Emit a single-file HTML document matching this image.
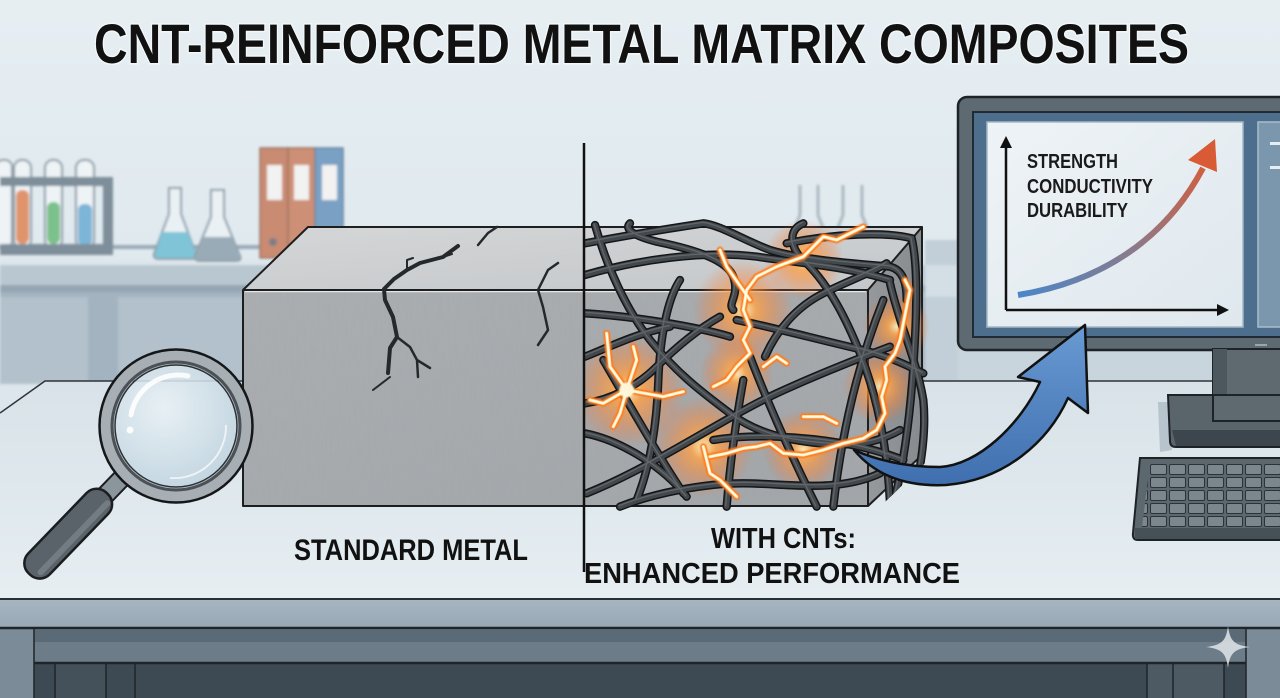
<!DOCTYPE html>
<html><head><meta charset="utf-8"><style>
html,body{margin:0;padding:0;background:#dde7ed;}
svg{display:block}
text{font-family:"Liberation Sans",Arial,sans-serif;font-weight:bold}
</style></head><body>
<svg xmlns="http://www.w3.org/2000/svg" width="1280" height="698" viewBox="0 0 1280 698">
<defs>
<linearGradient id="wall" x1="0" y1="0" x2="0" y2="1">
<stop offset="0" stop-color="#e6eef2"/><stop offset="0.5" stop-color="#dde7ed"/><stop offset="1" stop-color="#d2dde4"/></linearGradient>
<linearGradient id="top" x1="0" y1="0" x2="1" y2="1">
<stop offset="0" stop-color="#d4d6d8"/><stop offset="1" stop-color="#c4c7c9"/></linearGradient>
<linearGradient id="front" x1="0" y1="0" x2="1" y2="1">
<stop offset="0" stop-color="#abaeb1"/><stop offset="1" stop-color="#a2a6a9"/></linearGradient>
<linearGradient id="side" x1="0" y1="0" x2="1" y2="0">
<stop offset="0" stop-color="#96999c"/><stop offset="1" stop-color="#878b8e"/></linearGradient>
<linearGradient id="tbl" x1="0" y1="0" x2="0" y2="1">
<stop offset="0" stop-color="#d8e2e8"/><stop offset="1" stop-color="#e6eef2"/></linearGradient>
<linearGradient id="band" x1="0" y1="0" x2="0" y2="1">
<stop offset="0" stop-color="#a7b6c1"/><stop offset="1" stop-color="#98a8b4"/></linearGradient>
<radialGradient id="lens" cx="0.4" cy="0.35" r="0.7">
<stop offset="0" stop-color="#eaf2f6" stop-opacity="0.85"/><stop offset="1" stop-color="#bfd3df" stop-opacity="0.9"/></radialGradient>
<linearGradient id="chartc" gradientUnits="userSpaceOnUse" x1="1018" y1="295" x2="1210" y2="150">
<stop offset="0" stop-color="#4a86c8"/><stop offset="0.5" stop-color="#8c7a8a"/><stop offset="1" stop-color="#d95b35"/></linearGradient>
<linearGradient id="arrowg" x1="0" y1="0" x2="0" y2="1">
<stop offset="0" stop-color="#6a9ad3"/><stop offset="1" stop-color="#3f6fae"/></linearGradient>
<linearGradient id="panel" x1="0" y1="0" x2="1" y2="1">
<stop offset="0" stop-color="#eef3f6"/><stop offset="1" stop-color="#dfe8ee"/></linearGradient>
<radialGradient id="glow">
<stop offset="0" stop-color="#fff4c0" stop-opacity="1"/>
<stop offset="0.25" stop-color="#ffa548" stop-opacity="0.9"/>
<stop offset="1" stop-color="#ff6a20" stop-opacity="0"/></radialGradient>
<filter id="blur" x="-5%" y="-5%" width="110%" height="110%"><feGaussianBlur stdDeviation="1.3"/></filter>
<filter id="lblur" x="-20%" y="-20%" width="140%" height="140%"><feGaussianBlur stdDeviation="2.5"/></filter>
<filter id="noise" x="0" y="0" width="100%" height="100%">
<feTurbulence type="fractalNoise" baseFrequency="0.5 0.05" numOctaves="2" seed="3"/>
<feColorMatrix type="matrix" values="0 0 0 0 0.35  0 0 0 0 0.36  0 0 0 0 0.38  0 0 0 1.4 -0.55"/>
</filter>
<clipPath id="frontclip"><path d="M243 290 L868 290 L868 506 L243 506 Z"/></clipPath>
<clipPath id="cntclip"><path d="M45 50 L1080 50 L1080 775 L910 940 L45 940 Z"/></clipPath>
<pattern id="keys" patternUnits="userSpaceOnUse" x="1150" y="464" width="19" height="13">
<rect x="0.5" y="0.5" width="16" height="10" rx="1.5" fill="#7c868d" stroke="#2c3338" stroke-width="1"/></pattern>
<g id="tubes">
  <path d="M75 75 C 110 200, 170 330, 240 420 C 320 520, 400 580, 480 640 C 560 700, 650 720, 750 730 C 850 740, 920 730, 990 690"/>
  <path d="M180 70 C 160 90, 200 110, 260 125 C 380 150, 470 180, 490 230 C 510 290, 470 310, 490 330"/>
  <path d="M45 130 C 150 110, 300 85, 400 70 C 450 75, 520 120, 600 150 C 700 180, 850 190, 960 200 C 1000 210, 1010 250, 1010 300"/>
  <path d="M45 225 C 200 180, 400 150, 560 170 C 700 190, 830 200, 960 240"/>
  <path d="M650 130 C 800 100, 950 95, 1025 115 C 1045 200, 1040 350, 1030 500 C 1020 650, 1000 800, 970 910"/>
  <path d="M45 340 C 200 350, 380 380, 480 410"/>
  <path d="M330 240 C 290 300, 270 420, 265 540 C 260 680, 240 800, 200 900"/>
  <path d="M585 470 C 620 390, 680 320, 760 280 C 840 240, 900 220, 950 190"/>
  <path d="M45 700 C 150 720, 280 800, 350 890"/>
  <path d="M50 880 C 250 800, 450 660, 620 580 C 750 520, 880 470, 960 440"/>
  <path d="M520 540 C 500 650, 480 790, 470 920"/>
  <path d="M540 470 C 590 600, 660 760, 740 920"/>
  <path d="M940 300 C 880 450, 820 650, 790 920"/>
  <path d="M700 70 C 650 90, 660 150, 710 190 C 780 260, 830 360, 870 460 C 910 560, 950 700, 960 910"/>
  <path d="M500 360 C 600 380, 750 420, 880 450 C 960 470, 1020 500, 1060 520"/>
  <path d="M100 480 C 170 600, 260 760, 340 880"/>
  <path d="M430 720 C 550 700, 700 710, 820 730 C 880 740, 950 760, 1000 780"/>
  <path d="M45 610 C 120 600, 200 560, 260 500 C 320 440, 380 390, 450 350"/>
  <path d="M960 250 C 990 380, 1040 480, 1060 600 C 1070 700, 1050 800, 1040 860"/>
  <path d="M150 920 C 250 880, 400 850, 520 850 C 650 850, 800 880, 930 820"/>
  <path d="M45 470 C 120 440, 200 400, 300 380"/>
</g>
<g id="bolts">
  <path d="M880 80 L800 120 L760 110 L700 170 L620 200 L560 230 L530 270 L520 330 L540 380 L520 420 L540 460 L500 500 L470 540 L430 560"/>
  <path d="M420 770 L470 760 L520 745 L560 740 L600 730 L640 760 L700 765 L760 750 L820 730 L880 715 L920 690 L945 640 L935 590 L950 540 L945 500 L975 460 L990 420 L1000 370 L1010 320 L1020 270 L1005 240"/>
  <path d="M170 570 L120 500 L110 400 M170 570 L200 480 L190 440 M170 570 L100 610 L60 600 M170 570 L150 640 L130 680 M170 570 L280 590 L340 575"/>
  <path d="M400 740 L420 820 L450 840 L500 890 M700 650 L760 650 L800 670 M580 500 L620 470 L650 490 M540 300 L470 200 L450 150"/>
</g>
</defs>

<rect width="1280" height="698" fill="url(#wall)"/>

<g filter="url(#blur)">
  <rect x="0" y="260" width="1280" height="6" fill="#dde6eb"/>
  <rect x="0" y="265" width="1280" height="20" fill="#b9c7d0"/>
  <rect x="0" y="285" width="1280" height="7" fill="#95a6b2"/>
  <rect x="0" y="292" width="1280" height="92" fill="#a3b4c0"/>
  <rect x="0" y="297" width="88" height="87" fill="#b2c1cb"/>
  <rect x="118" y="297" width="130" height="87" fill="#b2c1cb"/>
  <rect x="925" y="240" width="40" height="144" fill="#c2cfd8"/>
  <rect x="925" y="265" width="40" height="32" fill="#d3dee5"/>
  <rect x="958" y="350" width="322" height="34" fill="#c9d5dd"/>
  <rect x="100" y="245" width="165" height="4" fill="#98a9b5"/>
  <g fill="#eef3f6" stroke="#8a9aa6" stroke-width="2">
    <rect x="-4" y="160" width="16" height="88" rx="7"/>
    <rect x="14" y="160" width="17" height="88" rx="8"/>
    <rect x="45" y="160" width="17" height="88" rx="8"/>
    <rect x="76" y="160" width="18" height="88" rx="8"/>
  </g>
  <rect x="16" y="190" width="13" height="54" rx="6" fill="#e0946c"/>
  <rect x="47" y="202" width="13" height="42" rx="6" fill="#7cc18c"/>
  <rect x="78" y="204" width="14" height="42" rx="6" fill="#7cb5d8"/>
  <rect x="0" y="177" width="113" height="9" fill="#7e8e9a"/>
  <rect x="103" y="177" width="10" height="78" fill="#7e8e9a"/>
  <rect x="0" y="244" width="113" height="11" fill="#7e8e9a"/>
  <path d="M169 188 L169 214 L154 254 Q153 259 159 259 L192 259 Q198 259 196 254 L181 214 L181 188 Z" fill="#eaf1f4" stroke="#8d9ca8" stroke-width="2"/>
  <path d="M162 232 L188 232 L196 254 Q197 258 192 258 L159 258 Q154 258 155 254 Z" fill="#7fc4d7"/>
  <path d="M211 190 L211 217 L195 256 Q194 261 200 261 L236 261 Q242 261 240 256 L224 217 L224 190 Z" fill="#eaf1f4" stroke="#8d9ca8" stroke-width="2"/>
  <path d="M203 237 L232 237 L240 256 Q241 260 236 260 L200 260 Q195 260 196 256 Z" fill="#9aabb8"/>
  <rect x="260" y="148" width="28" height="110" fill="#c98b72" stroke="#9c7463" stroke-width="1.5"/>
  <rect x="288" y="148" width="27" height="110" fill="#cd8f75" stroke="#9c7463" stroke-width="1.5"/>
  <rect x="315" y="148" width="28" height="110" fill="#7aa0c4" stroke="#66859f" stroke-width="1.5"/>
  <rect x="267" y="165" width="15" height="35" fill="#f2f2f2"/>
  <rect x="294" y="165" width="15" height="35" fill="#f2f2f2"/>
  <rect x="322" y="165" width="15" height="35" fill="#f2f2f2"/>
  <circle cx="273" cy="242" r="4" fill="#7d7f86"/>
  <path d="M800 185 L800 215 L790 240 M818 185 L818 215 L828 240" fill="none" stroke="#aab7c0" stroke-width="3"/>
  <path d="M843 185 L843 215 L833 240 M862 185 L862 215 L872 240" fill="none" stroke="#aab7c0" stroke-width="3"/>
</g>

<path d="M0 413 L45 381 L1280 381 L1280 599 L0 599 Z" fill="url(#tbl)"/>
<path d="M0 413 L45 381 L1280 381" fill="none" stroke="#2e3338" stroke-width="1.5"/>
<rect x="0" y="599" width="1280" height="29" fill="url(#band)"/>
<line x1="0" y1="599" x2="1280" y2="599" stroke="#2a2f33" stroke-width="2"/>
<rect x="0" y="628" width="1280" height="70" fill="#6c7c89"/>
<rect x="34" y="630" width="1212" height="12" fill="#5a6a77"/>
<rect x="0" y="628" width="34" height="70" fill="#7b8b97"/>
<rect x="1246" y="628" width="34" height="70" fill="#7b8b97"/>
<rect x="34" y="663" width="1212" height="35" fill="#3e4a53"/>
<rect x="55" y="663" width="51" height="35" fill="#45515a"/>
<rect x="1147" y="663" width="77" height="35" fill="#4d5a64"/>
<g stroke="#1f2428" stroke-width="1.5">
  <line x1="0" y1="628" x2="1280" y2="628" stroke-width="2.5"/>
  <line x1="34" y1="663" x2="1246" y2="663" stroke-width="2.5"/>
  <line x1="34" y1="628" x2="34" y2="698"/>
  <line x1="55" y1="663" x2="55" y2="698"/>
  <line x1="106" y1="663" x2="106" y2="698"/>
  <line x1="135" y1="663" x2="135" y2="698"/>
  <line x1="1147" y1="663" x2="1147" y2="698"/>
  <line x1="1173" y1="663" x2="1173" y2="698"/>
  <line x1="1224" y1="663" x2="1224" y2="698"/>
  <line x1="1246" y1="628" x2="1246" y2="698"/>
</g>

<rect x="958" y="97" width="340" height="253" rx="9" fill="#5e6a72" stroke="#1e2328" stroke-width="2.5"/>
<rect x="973" y="112" width="320" height="225" fill="#4d6f8d" stroke="#222b33" stroke-width="2"/>
<rect x="987" y="122" width="256" height="205" fill="url(#panel)" stroke="#a4b7c6" stroke-width="1.5"/>
<rect x="1258" y="122" width="30" height="205" fill="#7a97ae" stroke="#a9bdcc" stroke-width="1.5"/>
<rect x="1270" y="142" width="12" height="3" fill="#e6eef3"/>
<rect x="1270" y="166" width="12" height="3" fill="#e6eef3"/>
<rect x="1255" y="344" width="12" height="2" fill="#9aa5ad"/>
<line x1="1006" y1="310" x2="1006" y2="145" stroke="#111" stroke-width="2.5"/>
<path d="M1006 136 L1000 148 L1012 148 Z" fill="#111"/>
<line x1="1006" y1="310" x2="1220" y2="310" stroke="#111" stroke-width="2.5"/>
<path d="M1229 310 L1217 304 L1217 316 Z" fill="#111"/>
<path d="M1018 295 C 1100 282, 1165 240, 1203 168" fill="none" stroke="url(#chartc)" stroke-width="6"/>
<path d="M1215 139 L1188 160 L1217 172 Z" fill="#d95b35"/>
<text x="1027" y="168" font-size="20" textLength="91" lengthAdjust="spacingAndGlyphs" fill="#1a1a1a">STRENGTH</text>
<text x="1027" y="193" font-size="20" textLength="126" lengthAdjust="spacingAndGlyphs" fill="#1a1a1a">CONDUCTIVITY</text>
<text x="1027" y="217" font-size="20" textLength="101" lengthAdjust="spacingAndGlyphs" fill="#1a1a1a">DURABILITY</text>
<path d="M1158 402 L1170 402 L1172 450 L1160 452 Z" fill="#b7c4cd"/>
<rect x="1213" y="349" width="75" height="72" fill="#5f6970" stroke="#1e2328" stroke-width="2"/>
<rect x="1213" y="349" width="14" height="72" fill="#4d575e"/>
<path d="M1168 395 L1290 395 L1290 447 L1176 447 Q1170 447 1170 441 Z" fill="#5a646b" stroke="#1e2328" stroke-width="2"/>
<path d="M1172 430 L1290 430 L1290 446 L1176 446 Z" fill="#3d464d"/>
<rect x="1213" y="395" width="75" height="26" fill="#5f6970" stroke="#1e2328" stroke-width="2"/>
<path d="M1140 458 L1290 458 L1290 540 L1138 540 Q1132 540 1133 533 Z" fill="#5d676e" stroke="#1e2328" stroke-width="2"/>
<rect x="1135" y="528" width="155" height="11" fill="#465057"/>
<path d="M1150 464 L1290 464 L1290 527 L1142 527 Z" fill="url(#keys)"/>

<path d="M308 227 L922 227 L868 290 L243 290 Z" fill="url(#top)"/>
<rect x="243" y="290" width="625" height="216" fill="url(#front)"/>
<path d="M868 290 L922 227 L922 455 L868 506 Z" fill="url(#side)"/>
<g clip-path="url(#frontclip)" opacity="0.3">
  <rect x="243" y="290" width="625" height="216" filter="url(#noise)"/>
</g>
<line x1="245" y1="291.5" x2="866" y2="291.5" stroke="#e4e6e8" stroke-width="1.5"/>
<g fill="none" stroke="#1c1e20" stroke-width="2" stroke-linejoin="round">
  <path d="M308 227 L922 227 L922 455 L868 506 L243 506 L243 290 Z"/>
  <path d="M243 290 L868 290 L922 227 M868 290 L868 506"/>
</g>
<g fill="none" stroke="#26292c" stroke-linecap="round" stroke-linejoin="round">
  <path d="M458 246 L443 257 L420 263 L407 270 L394 279 L384 289 L385 300 L393 317 L397 337 L390 348 L388 373" stroke-width="4"/>
  <path d="M397 337 L410 347 L417 360 L430 368 M417 360 L418 377" stroke-width="2.5"/>
  <path d="M443 257 L452 254 M407 270 L407 260 L413 258 M390 377 L373 390" stroke-width="2"/>
  <path d="M497 227 L488 233 L478 245" stroke-width="2.5"/>
  <path d="M558 263 L548 270 L538 290 L543 307 L548 330 L538 345" stroke-width="2.5"/>
</g>

<g transform="translate(570 200) scale(0.33333)">
  <g clip-path="url(#cntclip)">
    <g filter="url(#lblur)" opacity="0.9">
      <circle cx="175" cy="570" r="170" fill="url(#glow)"/>
      <circle cx="400" cy="740" r="150" fill="url(#glow)"/>
      <circle cx="520" cy="330" r="150" fill="url(#glow)"/>
      <circle cx="700" cy="750" r="120" fill="url(#glow)"/>
      <circle cx="930" cy="560" r="110" fill="url(#glow)"/>
      <circle cx="980" cy="380" r="100" fill="url(#glow)"/>
      <circle cx="700" cy="180" r="120" fill="url(#glow)"/>
      <circle cx="500" cy="520" r="110" fill="url(#glow)"/>
    </g>
    <g fill="none" stroke-linecap="round">
      <use href="#tubes" stroke="#141618" stroke-width="25"/>
      <use href="#tubes" stroke="#43484c" stroke-width="16"/>
      <use href="#tubes" stroke="#6f7479" stroke-width="4" transform="translate(-3 -3)" opacity="0.7"/>
    </g>
    <g fill="none" stroke-linejoin="round" stroke-linecap="round">
      <use href="#bolts" stroke="#ff7a22" stroke-width="20" filter="url(#lblur)"/>
      <use href="#bolts" stroke="#ffd88a" stroke-width="10"/>
      <use href="#bolts" stroke="#fffcee" stroke-width="5.5"/>
    </g>
    <circle cx="170" cy="570" r="22" fill="#fff6d8" filter="url(#lblur)"/>
  </g>
</g>

<path d="M854 450 C 872 458, 900 467, 940 467 C 978 465, 1020 425, 1040 382 L 1018 377 L 1085 325 L 1088 413 L 1068 398 C 1048 442, 1005 480, 946 485 C 905 487, 875 475, 854 450 Z" fill="url(#arrowg)" stroke="#111" stroke-width="2.5" stroke-linejoin="round"/>

<g transform="translate(121 479) rotate(134)">
  <rect x="-2" y="-9" width="26" height="18" fill="#8b959c" stroke="#1b1e20" stroke-width="2"/>
  <rect x="20" y="-15" width="112" height="30" rx="14" fill="#5a636a" stroke="#1b1e20" stroke-width="2.5"/>
  <rect x="24" y="-10" width="102" height="6" rx="3" fill="#737c83"/>
</g>
<circle cx="176" cy="426" r="69" fill="none" stroke="#a7afb5" stroke-width="14"/>
<circle cx="176" cy="426" r="76.5" fill="none" stroke="#151719" stroke-width="2.5"/>
<circle cx="176" cy="426" r="64" fill="none" stroke="#4a5258" stroke-width="3"/>
<circle cx="176" cy="426" r="61" fill="url(#lens)"/>
<circle cx="176" cy="426" r="61" fill="none" stroke="#2b3034" stroke-width="1.5"/>
<path d="M131 415 A 48 48 0 0 1 188 376" fill="none" stroke="#ffffff" stroke-width="5" stroke-linecap="round" opacity="0.85"/>
<circle cx="130" cy="430" r="3.5" fill="#fff" opacity="0.9"/>
<path d="M226 425 A 52 52 0 0 1 170 478" fill="none" stroke="#ffffff" stroke-width="1.8" opacity="0.7"/>

<line x1="584" y1="143" x2="584" y2="572" stroke="#111" stroke-width="2.5"/>

<text x="94" y="63" font-size="56" textLength="1095" lengthAdjust="spacingAndGlyphs" fill="#111" stroke="#f3f7f9" stroke-width="3" paint-order="stroke">CNT-REINFORCED METAL MATRIX COMPOSITES</text>
<text x="294" y="560" font-size="30" textLength="234" lengthAdjust="spacingAndGlyphs" fill="#111">STANDARD METAL</text>
<text x="711" y="548" font-size="29" textLength="145" lengthAdjust="spacingAndGlyphs" fill="#111">WITH CNTs:</text>
<text x="584" y="583" font-size="29" textLength="376" lengthAdjust="spacingAndGlyphs" fill="#111">ENHANCED PERFORMANCE</text>

<path d="M1228 626 C1230 641 1234 645 1250 647 C1234 649 1230 653 1228 668 C1226 653 1222 649 1206 647 C1222 645 1226 641 1228 626 Z" fill="#dfe5ea" opacity="0.85"/>
</svg>
</body></html>
